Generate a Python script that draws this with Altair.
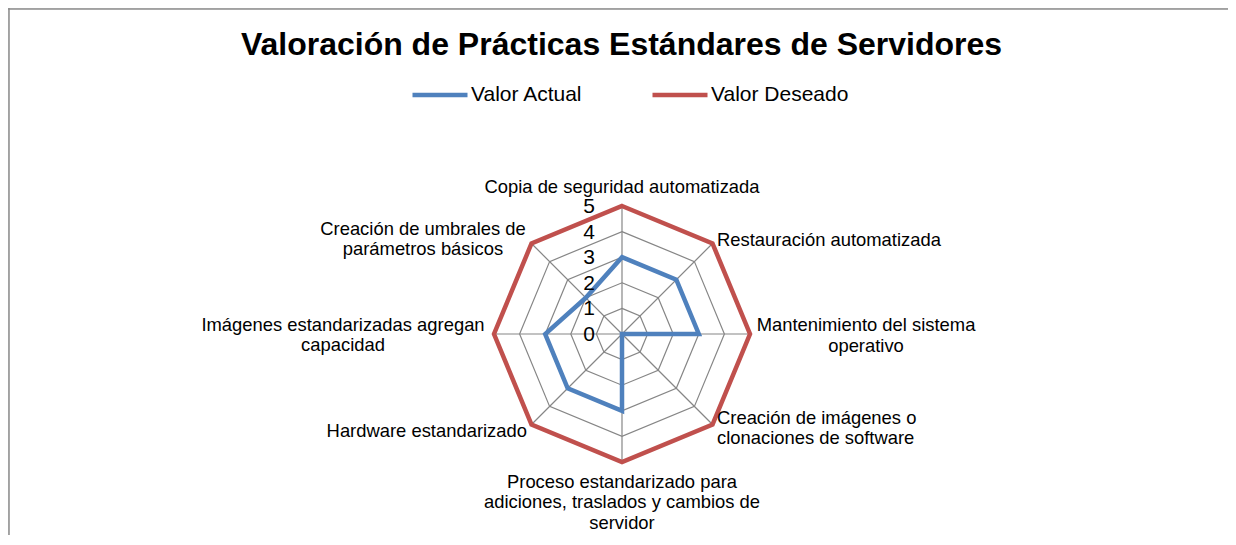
import altair as alt
import pandas as pd

# ---------------- data ----------------
title_text = "Valoración de Prácticas Estándares de Servidores"
categories = [
    "Copia de seguridad automatizada",
    "Restauración automatizada",
    "Mantenimiento del sistema\noperativo",
    "Creación de imágenes o\nclonaciones de software",
    "Proceso estandarizado para\nadiciones, traslados y cambios de\nservidor",
    "Hardware estandarizado",
    "Imágenes estandarizadas agregan\ncapacidad",
    "Creación de umbrales de\nparámetros básicos",
]
series_names = ["Valor Actual", "Valor Deseado"]
valor_actual = [3, 3, 3, 0, 3, 3, 3, 2]
valor_deseado = [5, 5, 5, 5, 5, 5, 5, 5]
ticks = [0, 1, 2, 3, 4, 5]

# ---------------- layout ----------------
W, H = 1220, 527
CX, CY = 614, 326          # centre of the radar in plot pixels
K = 25.6                   # pixels per unit
FONT = "Liberation Sans"
COLORS = ["#4F81BD", "#C0504D"]
GRID = "#868686"
N = len(categories)
RMAX = max(ticks)
LH = 20.5

xs = alt.Scale(domain=[-CX / K, (W - CX) / K], nice=False, zero=False)
ys = alt.Scale(domain=[-(H - CY) / K, CY / K], nice=False, zero=False)

ang = f"datum.idx * 2 * PI / {N}"

series_df = pd.DataFrame(
    [{"serie": series_names[0], "idx": i, "value": v} for i, v in enumerate(valor_actual)]
    + [{"serie": series_names[1], "idx": i, "value": v} for i, v in enumerate(valor_deseado)]
)
rings_df = pd.DataFrame([{"level": t, "idx": i} for t in ticks[1:] for i in range(N)])
spokes_df = pd.DataFrame({"idx": list(range(N))})
labels_df = pd.DataFrame({"idx": list(range(N)), "label": categories})
ticks_df = pd.DataFrame({"value": ticks})
title_df = pd.DataFrame({"t": [title_text]})

X = lambda f: alt.X(f, type="quantitative", scale=xs, axis=None)
Y = lambda f: alt.Y(f, type="quantitative", scale=ys, axis=None)

rings = (
    alt.Chart(rings_df)
    .transform_calculate(x=f"datum.level * sin({ang})", y=f"datum.level * cos({ang})")
    .mark_line(interpolate="linear-closed", color=GRID, strokeWidth=1.2)
    .encode(x=X("x"), y=Y("y"), detail="level:N", order="idx:Q")
)

spokes = (
    alt.Chart(spokes_df)
    .transform_calculate(
        x0="0", y0="0",
        x=f"{RMAX} * sin({ang})", y=f"{RMAX} * cos({ang})",
    )
    .mark_rule(color=GRID, strokeWidth=1.2)
    .encode(x=X("x0"), y=Y("y0"), x2="x:Q", y2="y:Q")
)

lines = (
    alt.Chart(series_df)
    .transform_calculate(x=f"datum.value * sin({ang})", y=f"datum.value * cos({ang})")
    .mark_line(interpolate="linear-closed", strokeWidth=4.5)
    .encode(
        x=X("x"),
        y=Y("y"),
        order="idx:Q",
        color=alt.Color(
            "serie:N",
            scale=alt.Scale(domain=series_names, range=COLORS),
            sort=series_names,
            legend=alt.Legend(
                orient="none",
                legendX=402,
                legendY=57,
                direction="horizontal",
                title=None,
                symbolType="stroke",
                symbolSize=3025,
                symbolStrokeWidth=4.5,
                labelFontSize=21,
                labelFont=FONT,
                labelColor="#000000",
                labelOffset=1,
                columnPadding=60,
                padding=0,
                labelLimit=400,
            ),
        ),
    )
)

tick_labels = (
    alt.Chart(ticks_df)
    .transform_calculate(x="0", y="datum.value")
    .mark_text(align="right", baseline="middle", dx=-27, dy=1, fontSize=21, font=FONT, color="#000000")
    .encode(x=X("x"), y=Y("y"), text="value:Q")
)

# per-label placement (align, dx, dy of the block centre) relative to the outer vertex
label_place = [
    ("center", 0, -19),
    ("left", 4.5, -3.5),
    ("center", 116, 1.5),
    ("left", 4.5, 3.5),
    ("center", 0, 40),
    ("right", -4.5, 6.5),
    ("center", -151, 1),
    ("center", -108.5, -4.5),
]
label_layers = []
for i, (al, dx, dy) in enumerate(label_place):
    n_lines = categories[i].count("\n") + 1
    label_layers.append(
        alt.Chart(labels_df)
        .transform_filter(f"datum.idx == {i}")
        .transform_calculate(x=f"{RMAX} * sin({ang})", y=f"{RMAX} * cos({ang})")
        .mark_text(
            align=al, baseline="middle", dx=dx, dy=dy - (n_lines - 1) * LH / 2,
            fontSize=18.4, font=FONT, lineBreak="\n", lineHeight=LH, color="#000000",
        )
        .encode(x=X("x"), y=Y("y"), text="label:N")
    )

title = (
    alt.Chart(title_df)
    .mark_text(align="center", baseline="middle", fontSize=32, fontWeight="bold", font=FONT, color="#000000")
    .encode(text="t:N", x=alt.value(613.5), y=alt.value(37))
)

frame_top = alt.Chart(title_df).mark_rule(color="#8c8c8c", strokeWidth=1.5).encode(
    x=alt.value(0), x2=alt.value(W), y=alt.value(1)
)
frame_left = alt.Chart(title_df).mark_rule(color="#8c8c8c", strokeWidth=1.5).encode(
    x=alt.value(1), y=alt.value(0), y2=alt.value(H)
)

chart = (
    alt.layer(frame_top, frame_left, rings, spokes, lines, tick_labels, *label_layers, title)
    .properties(width=W, height=H, padding=0, autosize=alt.AutoSizeParams(type="none"))
    .configure_view(stroke=None)
    .configure(background="white")
)

chart.save("out.html", embed_options={"renderer": "svg", "actions": False})
